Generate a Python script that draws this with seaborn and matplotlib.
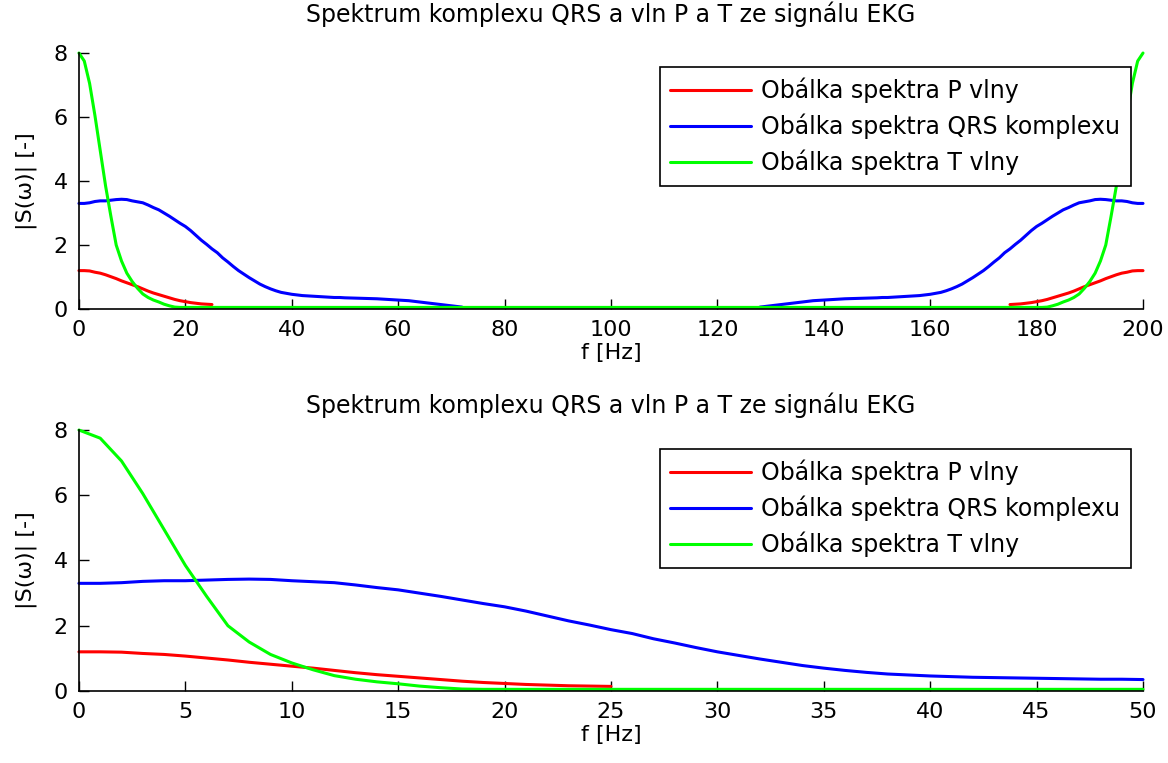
import numpy as np
import pandas as pd
import matplotlib
matplotlib.use('Agg')
import matplotlib.pyplot as plt
import seaborn as sns

# sampling frequency - the spectrum is mirrored around fs/2
fs = 200

# envelope of the P wave spectrum (0..25 Hz)
p_freq = list(range(0, 26))
p_env = [1.20, 1.20, 1.19, 1.15, 1.12, 1.07, 1.01, 0.95, 0.88, 0.82,
         0.76, 0.70, 0.63, 0.56, 0.50, 0.45, 0.40, 0.35, 0.30, 0.26,
         0.23, 0.20, 0.18, 0.16, 0.15, 0.14]

# envelope of the QRS complex spectrum (0..72 Hz)
qrs_freq = list(range(0, 51)) + [52, 54, 56, 58, 60, 62, 64, 66, 68, 70, 72]
qrs_env = [3.30, 3.30, 3.32, 3.36, 3.38, 3.38, 3.40, 3.42, 3.43, 3.42,
           3.38, 3.35, 3.32, 3.25, 3.17, 3.10, 3.00, 2.90, 2.79, 2.68,
           2.58, 2.45, 2.30, 2.15, 2.02, 1.88, 1.76, 1.60, 1.47, 1.33,
           1.20, 1.09, 0.98, 0.88, 0.78, 0.70, 0.63, 0.57, 0.52, 0.49,
           0.46, 0.44, 0.42, 0.41, 0.40, 0.39, 0.38, 0.37, 0.36, 0.36,
           0.35, 0.34, 0.33, 0.32, 0.30, 0.28, 0.26, 0.22, 0.18, 0.14,
           0.10, 0.06]

# envelope of the T wave spectrum (0..100 Hz)
t_freq = list(range(0, 21)) + [30, 40, 50, 60, 70, 80, 90, 100]
t_env = [8.00, 7.75, 7.05, 6.05, 4.95, 3.85, 2.90, 2.00, 1.50, 1.12,
         0.86, 0.65, 0.47, 0.36, 0.28, 0.22, 0.15, 0.10, 0.06, 0.05,
         0.05, 0.05, 0.05, 0.05, 0.05, 0.05, 0.05, 0.05, 0.05]

labels = ['Obálka spektra P vlny', 'Obálka spektra QRS komplexu', 'Obálka spektra T vlny']
colors = ['#ff0000', '#0000ff', '#00ff00']

title = 'Spektrum komplexu QRS a vln P a T ze signálu EKG'
xlab = 'f [Hz]'
ylab = '|S(ω)| [-]'

# long table: left half of the spectrum + its mirror image
rows = []
for lab, fr, val in zip(labels, [p_freq, qrs_freq, t_freq], [p_env, qrs_env, t_env]):
    for f, v in zip(fr, val):
        rows.append({'f': f, 'S': v, 'serie': lab, 'seg': 'L'})
        rows.append({'f': fs - f, 'S': v, 'serie': lab, 'seg': 'R'})
data = pd.DataFrame(rows)

sns.set_style('ticks')
plt.rcParams['font.family'] = ['DejaVu Sans']
plt.rcParams['text.color'] = 'black'
plt.rcParams['axes.labelcolor'] = 'black'
plt.rcParams['xtick.color'] = 'black'
plt.rcParams['ytick.color'] = 'black'

fig = plt.figure(figsize=(11.68, 7.63), dpi=100)
ax1 = fig.add_axes([0.0676, 0.595, 0.911, 0.3355])
ax2 = fig.add_axes([0.0676, 0.0944, 0.911, 0.342])

def draw(ax, df, xmax, xstep, leg_top, tpad):
    df = df[df['f'] <= xmax]
    sns.lineplot(data=df, x='f', y='S', hue='serie', hue_order=labels, units='seg',
                 estimator=None, palette=colors, linewidth=2.2, ax=ax, sort=True)
    for ln in ax.get_lines():
        ln.set_clip_on(False)
    ax.set_xlim(0, xmax)
    ax.set_ylim(0, 8)
    ax.set_xticks(np.arange(0, xmax + 1, xstep))
    ax.set_yticks([0, 2, 4, 6, 8])
    ax.tick_params(direction='in', length=7, width=1, labelsize=16)
    ax.tick_params(axis='x', pad=8)
    ax.tick_params(axis='y', pad=8)
    ax.set_title(title, fontsize=17, pad=tpad)
    ax.set_xlabel(xlab, fontsize=16, labelpad=2)
    ax.set_ylabel(ylab, fontsize=16, labelpad=12)
    sns.despine(ax=ax)
    for sp in ['left', 'bottom']:
        ax.spines[sp].set_linewidth(1.2)
        ax.spines[sp].set_color('black')
    handles, labs = ax.get_legend_handles_labels()
    leg = ax.legend(handles, labs, loc='upper right', bbox_to_anchor=(0.9887, leg_top),
                    borderaxespad=0, fancybox=False, framealpha=1, edgecolor='black',
                    fontsize=17, handlelength=3.4, handletextpad=0.45,
                    labelspacing=0.45, borderpad=0.45)
    leg.get_frame().set_linewidth(1.2)

draw(ax1, data, 200, 20, 0.945, 22)
draw(ax2, data[data['seg'] == 'L'], 50, 5, 0.927, 12)

fig.savefig('out.png', dpi=100)
